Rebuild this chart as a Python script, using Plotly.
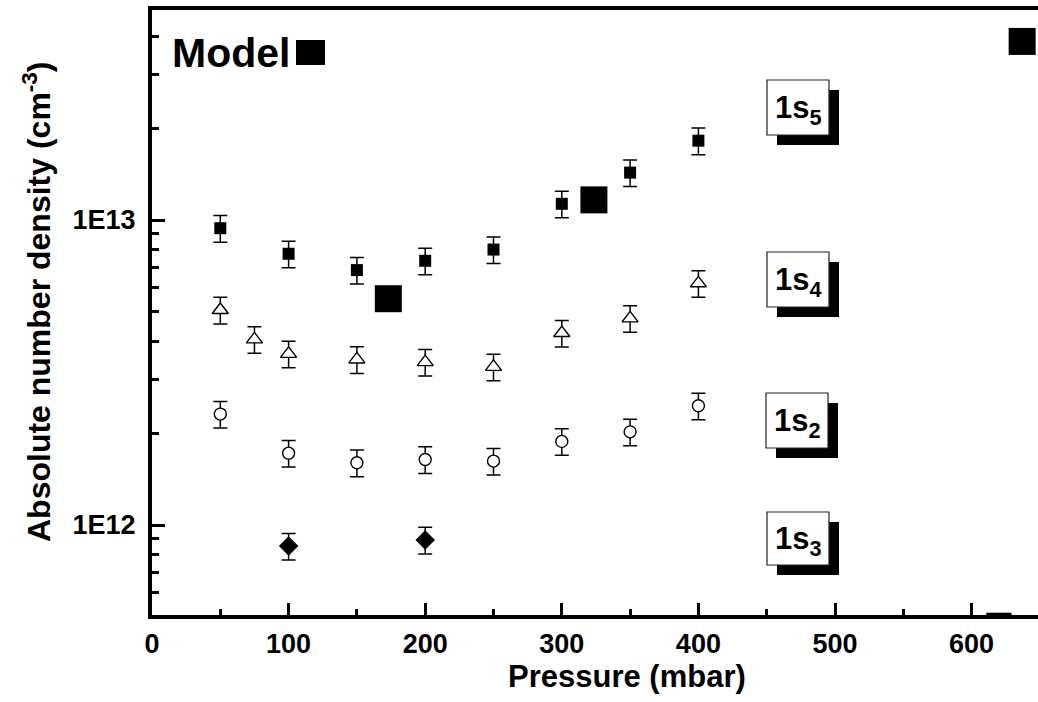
import plotly.graph_objects as go

# Measured number densities (cm^-3) of the Ar 1s levels versus pressure (mbar)
pressure_1s5 = [50, 100, 150, 200, 250, 300, 350, 400]
density_1s5 = [9.4e12, 7.75e12, 6.85e12, 7.35e12, 8.0e12, 1.13e13, 1.43e13, 1.82e13]

pressure_1s4 = [50, 75, 100, 150, 200, 250, 300, 350, 400]
density_1s4 = [5.07e12, 4.06e12, 3.64e12, 3.49e12, 3.42e12, 3.30e12, 4.26e12, 4.76e12, 6.2e12]

pressure_1s2 = [50, 100, 150, 200, 250, 300, 350, 400]
density_1s2 = [2.31e12, 1.72e12, 1.60e12, 1.64e12, 1.62e12, 1.88e12, 2.02e12, 2.46e12]

pressure_1s3 = [100, 200]
density_1s3 = [8.53e11, 8.93e11]

# Model results
pressure_model = [173, 323.5, 637]
density_model = [5.52e12, 1.164e13, 3.85e13]
pressure_model_low = [620]
density_model_low = [5.1e11]

rel_error = 0.10

level_labels = ["1s<sub>5</sub>", "1s<sub>4</sub>", "1s<sub>2</sub>", "1s<sub>3</sub>"]

x_tickvals = [0, 100, 200, 300, 400, 500, 600]
x_minor_tickvals = [50, 150, 250, 350, 450, 550]
y_tickvals = [1e12, 1e13]
y_ticktext = ["1E12", "1E13"]
y_minor_tickvals = [6e11, 7e11, 8e11, 9e11, 2e12, 3e12, 4e12, 5e12, 6e12, 7e12,
                    8e12, 9e12, 2e13, 3e13, 4e13]

FONT = "Arial, Liberation Sans, sans-serif"
W_FIG, H_FIG = 1038, 702
L, T, B = 152, 10, 87
R = 0
PW = W_FIG - L - R
PH = H_FIG - T - B


def px_x(px):
    return (px - L) / PW


def px_y(py):
    return (H_FIG - B - py) / PH


def errs(vals):
    return [v * rel_error for v in vals]


err_style = dict(type="data", color="black", thickness=1.5, width=7)

fig = go.Figure()

fig.add_trace(go.Scatter(
    x=pressure_1s5, y=density_1s5, mode="markers",
    error_y=dict(array=errs(density_1s5), **err_style),
    marker=dict(symbol="square", size=12, color="black", line=dict(width=0)),
))
fig.add_trace(go.Scatter(
    x=pressure_1s4, y=density_1s4, mode="markers",
    error_y=dict(array=errs(density_1s4), **err_style),
    marker=dict(symbol="triangle-up", size=14, color="white",
                line=dict(width=1.4, color="black")),
))
fig.add_trace(go.Scatter(
    x=pressure_1s2, y=density_1s2, mode="markers",
    error_y=dict(array=errs(density_1s2), **err_style),
    marker=dict(symbol="circle", size=12, color="white",
                line=dict(width=1.4, color="black")),
))
fig.add_trace(go.Scatter(
    x=pressure_1s3, y=density_1s3, mode="markers",
    error_y=dict(array=errs(density_1s3), **err_style),
    marker=dict(symbol="diamond", size=15, color="black", line=dict(width=0)),
))
fig.add_trace(go.Scatter(
    x=pressure_model, y=density_model, mode="markers", cliponaxis=False,
    marker=dict(symbol="square", size=27, color="black", line=dict(width=0)),
))
fig.add_trace(go.Scatter(
    x=pressure_model_low, y=density_model_low, mode="markers", cliponaxis=False,
    marker=dict(symbol="line-ew", size=18, line=dict(width=3, color="black")),
))

# Level label boxes with drop shadows (pixel boxes: left, top, right, bottom)
label_boxes = [
    (767, 80, 829, 135),
    (767, 252, 829, 307),
    (766, 393, 828, 448),
    (767, 512, 829, 565),
]
shapes = []
annotations = []
for (x0, y0, x1, y1), lab in zip(label_boxes, level_labels):
    shapes.append(dict(type="rect", xref="paper", yref="paper",
                       x0=px_x(x0 + 10), x1=px_x(x1 + 10),
                       y0=px_y(y1 + 10), y1=px_y(y0 + 10),
                       fillcolor="black", line=dict(width=0), layer="above"))
    shapes.append(dict(type="rect", xref="paper", yref="paper",
                       x0=px_x(x0), x1=px_x(x1), y0=px_y(y1), y1=px_y(y0),
                       fillcolor="white", line=dict(width=1.2, color="#222"),
                       layer="above"))
    annotations.append(dict(xref="paper", yref="paper",
                            x=px_x((x0 + x1) / 2), y=px_y((y0 + y1) / 2 + 2),
                            text="<b>" + lab + "</b>", showarrow=False,
                            xanchor="center", yanchor="middle",
                            font=dict(family=FONT, size=31, color="black")))

# "Model" key: text followed by a filled square
annotations.append(dict(xref="paper", yref="paper", x=px_x(170), y=px_y(53),
                        text="<b>Model</b>", showarrow=False,
                        xanchor="left", yanchor="middle",
                        font=dict(family=FONT, size=41, color="black")))
shapes.append(dict(type="rect", xref="paper", yref="paper",
                   x0=px_x(296), x1=px_x(325), y0=px_y(65), y1=px_y(40),
                   fillcolor="black", line=dict(width=0)))

# Axis titles
annotations.append(dict(xref="paper", yref="paper", x=px_x(627), y=px_y(676),
                        text="<b>Pressure (mbar)</b>", showarrow=False,
                        xanchor="center", yanchor="middle",
                        font=dict(family=FONT, size=31, color="black")))
annotations.append(dict(xref="paper", yref="paper", x=px_x(37), y=px_y(302),
                        text="<b>Absolute number density (cm<sup>-3</sup>)</b>",
                        showarrow=False, textangle=-90,
                        xanchor="center", yanchor="middle",
                        font=dict(family=FONT, size=32, color="black")))

x_max = PW / 1.366
y_lo = 12 - (H_FIG - B - 525) / 305
y_hi = 13 + (220 - T) / 305

fig.update_layout(
    width=W_FIG, height=H_FIG,
    margin=dict(l=L, r=R, t=T, b=B, pad=0),
    paper_bgcolor="white", plot_bgcolor="white",
    showlegend=False,
    shapes=shapes, annotations=annotations,
    font=dict(family=FONT, color="black"),
)
fig.update_xaxes(
    range=[0, x_max], showgrid=False, zeroline=False,
    showline=True, linewidth=4, linecolor="black", mirror=True,
    ticks="inside", ticklen=12, tickwidth=3, tickcolor="black",
    tickvals=x_tickvals, ticklabelstandoff=2,
    tickfont=dict(family=FONT, size=27, color="black", weight="bold"),
    minor=dict(ticks="inside", ticklen=6, tickwidth=3, tickcolor="black",
               tickvals=x_minor_tickvals, showgrid=False),
)
fig.update_yaxes(
    type="log", range=[y_lo, y_hi], showgrid=False, zeroline=False,
    showline=True, linewidth=4, linecolor="black", mirror=False,
    ticks="inside", ticklen=13, tickwidth=3, tickcolor="black",
    tickvals=y_tickvals, ticktext=y_ticktext, ticklabelstandoff=7,
    tickfont=dict(family=FONT, size=27, color="black", weight="bold"),
    minor=dict(ticks="inside", ticklen=7, tickwidth=3, tickcolor="black",
               tickvals=y_minor_tickvals, showgrid=False),
)

fig.write_html("out.html")
